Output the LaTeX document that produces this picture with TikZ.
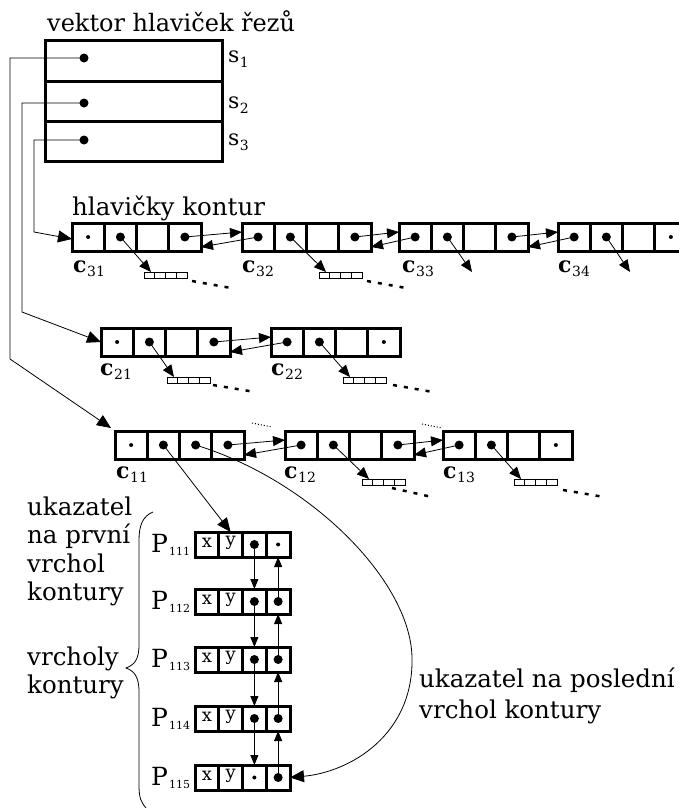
\documentclass[tikz,border=0pt]{standalone}
\usepackage{fontspec}
\setmainfont{DejaVu Serif}
\usetikzlibrary{arrows.meta,calc}
\tikzset{
  boxline/.style={line width=3pt},
  ptr/.style={line width=0.8pt},
  bigarrow/.style={ptr,-{Triangle[length=14pt,width=12pt]}},
  midarrow/.style={ptr,-{Triangle[length=12pt,width=10pt]}},
  parrow/.style={ptr,-{Triangle[length=10pt,width=8pt]}},
  dashdots/.style={line width=2.5pt, dash pattern=on 4pt off 7pt},
  txt/.style={anchor=base west, inner sep=0pt, font=\fontsize{24.5}{28}\selectfont},
  clab/.style={anchor=base west, inner sep=0pt, font=\fontsize{22}{24}\selectfont},
}
\newcommand{\sub}[2]{\kern0.5pt\raisebox{-#2}{\fontsize{14}{14}\selectfont #1}}
\newcommand{\cbx}[3]{%
  \draw[boxline] (#2,#3) rectangle ++(129,28);
  \foreach \i in {1,2,3}{\draw[boxline] (#2+32.25*\i,#3) -- ++(0,28);}
  \foreach \i in {1,2,3,4}{\coordinate (#1-\i) at (#2+32.25*\i-16.125,#3+14);}
  \coordinate (#1-in) at (#2,#3+9);
  \coordinate (#1-back) at (#2+129,#3+24);
  \coordinate (#1-W) at (#2,#3+14);
  \coordinate (#1-NW) at (#2-4,#3-3);
}
\newcommand{\minarr}[3]{%
  \draw[line width=0.8pt] (#2,#3) rectangle ++(43,6);
  \foreach \i in {1,2,3}{\draw[line width=0.8pt] (#2+10.75*\i,#3) -- ++(0,6);}
  \coordinate (#1) at (#2+7,#3);
}
\newcommand{\pbx}[3]{%
  \draw[boxline] (195,#2) rectangle ++(95,25);
  \foreach \i in {1,2,3}{\draw[boxline] (195+23.75*\i,#2) -- ++(0,25);}
  \foreach \i in {1,2,3,4}{\coordinate (#1-\i) at (195+23.75*\i-11.875,#2+12.5);}
  \coordinate (#1-t2) at (195+23.75*1.5,#2);
  \coordinate (#1-t3) at (195+23.75*2.5,#2);
  \coordinate (#1-b4) at (195+23.75*3.5,#2+25);
  \coordinate (#1-E) at (290,#2+12.5);
  \node[font=\fontsize{18}{18}\selectfont, inner sep=0pt] (#1-x) at ($(#1-1)+(0,-1.5)$) {x};
  \node[font=\fontsize{18}{18}\selectfont, inner sep=0pt] (#1-y) at ($(#1-2)+(0,-1.5)$) {y};
  \node[anchor=base west, inner sep=0pt, font=\fontsize{25}{26}\selectfont] (#1-lab) at (151,#2+20) {P\kern1pt\raisebox{-3pt}{\fontsize{11}{11}\selectfont #3}};
}
\newcommand{\bdot}[1]{\fill (#1) circle (4.5pt);}
\newcommand{\sdot}[1]{\fill (#1) circle (2pt);}
\begin{document}
\begin{tikzpicture}[x=1pt,y=-1pt]
\useasboundingbox (0,0) rectangle (679,808);
\clip (0,0) rectangle (679,808);
% vector of slice headers
\node[txt, font=\fontsize{24}{28}\selectfont] (title) at (47,32) {vektor hlaviček řezů};
\draw[boxline] (45,41) rectangle (222,161);
\draw[boxline] (45,81) -- (222,81);
\draw[boxline] (45,121) -- (222,121);
\coordinate (s1d) at (84,58);
\coordinate (s2d) at (84,103);
\coordinate (s3d) at (84,140);
\bdot{s1d}\bdot{s2d}\bdot{s3d}
\node[clab] (s1) at (228,63) {s\sub{1}{5pt}};
\node[clab] (s2) at (228,108) {s\sub{2}{5pt}};
\node[clab] (s3) at (228,145) {s\sub{3}{5pt}};
% contour headers
\node[txt] (hk) at (72,215) {hlavičky kontur};
\cbx{c31}{72}{223}
\cbx{c32}{242}{223}
\cbx{c33}{399}{223}
\cbx{c34}{558}{223}
\cbx{c21}{101}{328}
\cbx{c22}{271}{328}
\cbx{c11}{115}{431}
\cbx{c12}{285}{431}
\cbx{c13}{443}{431}
\sdot{c31-1}\bdot{c31-2}\bdot{c31-4}
\bdot{c32-1}\bdot{c32-2}\bdot{c32-4}
\bdot{c33-1}\bdot{c33-2}\bdot{c33-4}
\bdot{c34-1}\bdot{c34-2}\sdot{c34-4}
\sdot{c21-1}\bdot{c21-2}\bdot{c21-4}
\bdot{c22-1}\bdot{c22-2}\sdot{c22-4}
\sdot{c11-1}\bdot{c11-2}\bdot{c11-3}\bdot{c11-4}
\bdot{c12-1}\bdot{c12-2}\bdot{c12-4}
\bdot{c13-1}\bdot{c13-2}\sdot{c13-4}
\node[clab] (l31) at (73,272) {\textbf{c}\sub{31}{4pt}};
\node[clab] (l32) at (242,272) {\textbf{c}\sub{32}{4pt}};
\node[clab] (l33) at (402,272) {\textbf{c}\sub{33}{4pt}};
\node[clab] (l34) at (558,272) {\textbf{c}\sub{34}{4pt}};
\node[clab] (l21) at (100,375) {\textbf{c}\sub{21}{4pt}};
\node[clab] (l22) at (271,375) {\textbf{c}\sub{22}{4pt}};
\node[clab] (l11) at (116,478) {\textbf{c}\sub{11}{4pt}};
\node[clab] (l12) at (284,478) {\textbf{c}\sub{12}{4pt}};
\node[clab] (l13) at (443,478) {\textbf{c}\sub{13}{4pt}};
% links between headers
\foreach \a/\b in {c31/c32,c32/c33,c33/c34,c21/c22,c11/c12,c12/c13}{
  \draw[midarrow] (\a-4) -- (\b-in);
  \draw[midarrow] (\b-1) -- (\a-back);
}
% pointers from slice vector
\draw[bigarrow] (s1d) -- (10,58) -- (10,359) -- (c11-NW);
\draw[bigarrow] (s2d) -- (22,103) -- (22,312) -- (c21-W);
\draw[bigarrow] (s3d) -- (34,140) -- (34,232) -- ($(c31-W)+(0,2)$);
% small arrays
\minarr{a31}{144}{272}
\minarr{a32}{319}{272}
\minarr{a21}{167}{377}
\minarr{a22}{343}{377}
\minarr{a12}{362}{479}
\minarr{a13}{514}{479}
\draw[midarrow] (c31-2) -- (a31);
\draw[midarrow] (c32-2) -- (a32);
\draw[midarrow] (c21-2) -- (a21);
\draw[midarrow] (c22-2) -- (a22);
\draw[midarrow] (c12-2) -- (a12);
\draw[midarrow] (c13-2) -- (a13);
\coordinate (e33) at (472,272);
\coordinate (e34) at (630,272);
\draw[midarrow] (c33-2) -- (e33);
\draw[midarrow] (c34-2) -- (e34);
\draw[dashdots] (192,281) -- (231,288);
\draw[dashdots] (367,281) -- (406,288);
\draw[dashdots] (213,385) -- (255,392);
\draw[dashdots] (393,385) -- (433,392);
\draw[dashdots] (392,488) -- (432,497);
\draw[dashdots] (563,490) -- (604,497);
\draw[line width=1pt, dotted] (252,423) -- (272,427);
\draw[line width=1pt, dotted] (422,424) -- (442,428);
% vertices of the contour
\pbx{P1}{532}{111}
\pbx{P2}{589}{112}
\pbx{P3}{647}{113}
\pbx{P4}{706}{114}
\pbx{P5}{765}{115}
\bdot{P1-3}\sdot{P1-4}
\bdot{P2-3}\bdot{P2-4}
\bdot{P3-3}\bdot{P3-4}
\bdot{P4-3}\bdot{P4-4}
\sdot{P5-3}\bdot{P5-4}
\foreach \a/\b in {P1/P2,P2/P3,P3/P4,P4/P5}{
  \draw[parrow] (\a-3) -- (\b-t3);
  \draw[parrow] (\b-4) -- (\a-b4);
}
\draw[bigarrow] (c11-2) -- (P1-t2);
\draw[bigarrow] (c11-3) .. controls (310,480) and (410,580) .. (412,657)
   .. controls (414,735) and (350,772) .. (P5-E);
% brace
\draw[ptr] (153,512) .. controls (143,516) and (139,525) .. (139,540) -- (139,645)
   .. controls (139,660) and (134,665) .. (126,668)
   .. controls (134,671) and (139,676) .. (139,692) -- (139,785)
   .. controls (139,798) and (141,802) .. (146,808);
% texts
\node[txt] (u1) at (27,515) {ukazatel};
\node[txt] (u2) at (27,543) {na první};
\node[txt] (u3) at (27,572) {vrchol};
\node[txt] (u4) at (27,600) {kontury};
\node[txt] (v1) at (27,665) {vrcholy};
\node[txt] (v2) at (27,693) {kontury};
\node[txt] (r1) at (419,687) {ukazatel na poslední};
\node[txt] (r2) at (419,718) {vrchol kontury};
\end{tikzpicture}
\end{document}
